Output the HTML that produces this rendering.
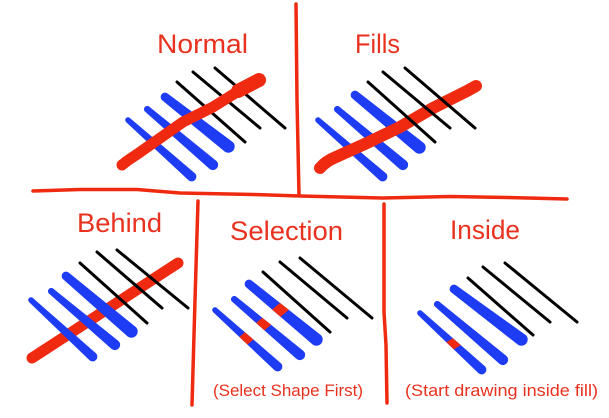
<!DOCTYPE html>
<html>
<head>
<meta charset="utf-8">
<style>
  html, body { margin:0; padding:0; background:#ffffff; }
  body { width:609px; height:418px; overflow:hidden; }
  svg { display:block; }
  .t { font-family:"Liberation Sans", sans-serif; fill:#e8321f; }
  .b { fill:#1d3cf4; stroke:#1d3cf4; stroke-width:0.6; stroke-linejoin:round; }
  .w { fill:#ffffff; stroke:#ffffff; stroke-width:0.6; }
</style>
</head>
<body>
<svg width="609" height="418" viewBox="0 0 609 418" xmlns="http://www.w3.org/2000/svg">
  <defs>
    <mask id="mSel" maskUnits="userSpaceOnUse" x="0" y="0" width="609" height="418">
      <rect x="0" y="0" width="609" height="418" fill="black"/>
      <path class="w" d="M213.3,311.9 L275,370.3 A4.5 4.5 0 0 0 281,363.7 L216.7,308.2 A2.5 2.5 0 0 0 213.3,311.9 Z"/>
      <path class="w" d="M232,301.2 L296.7,358.7 A5 5 0 0 0 303.4,351.3 L236,296.8 A3 3 0 0 0 232,301.2 Z"/>
      <path class="w" d="M246.3,287 L313,344.4 A6 6 0 0 0 321,335.6 L251.7,281 A4 4 0 0 0 246.3,287 Z"/>
    </mask>
    <mask id="mIn" maskUnits="userSpaceOnUse" x="0" y="0" width="609" height="418">
      <rect x="0" y="0" width="609" height="418" fill="black"/>
      <path class="w" d="M418.3,314.9 L479,373.3 A4.5 4.5 0 0 0 485,366.7 L421.7,311.2 A2.5 2.5 0 0 0 418.3,314.9 Z"/>
    </mask>
  </defs>

  <!-- Dividers -->
  <g stroke="#f02a10" stroke-width="3.5" fill="none" stroke-linecap="round" stroke-linejoin="round">
    <path d="M296,4 L297,100 L299,195"/>
    <path d="M33,191 L80,189.5 L137,189.5 L180,193 L253,194.5 L300,196 L383,198 L450,196.5 L507,197.5 L567,199"/>
    <path d="M198,201 L195,300 L192,405"/>
    <path d="M384,204 L384,312 L386,345 L387,403"/>
  </g>

  <!-- Titles -->
  <text class="t" x="157" y="53" font-size="27" textLength="91" lengthAdjust="spacingAndGlyphs">Normal</text>
  <text class="t" x="355" y="53" font-size="27" textLength="45" lengthAdjust="spacingAndGlyphs">Fills</text>
  <text class="t" x="77" y="232" font-size="27" textLength="85" lengthAdjust="spacingAndGlyphs">Behind</text>
  <text class="t" x="230" y="240" font-size="27" textLength="113" lengthAdjust="spacingAndGlyphs">Selection</text>
  <text class="t" x="450" y="239" font-size="27" textLength="70" lengthAdjust="spacingAndGlyphs">Inside</text>
  <text class="t" x="213" y="396" font-size="17" textLength="150" lengthAdjust="spacingAndGlyphs">(Select Shape First)</text>
  <text class="t" x="405" y="396" font-size="17" textLength="193" lengthAdjust="spacingAndGlyphs">(Start drawing inside fill)</text>

  <!-- ===== NORMAL ===== -->
  <path class="b" d="M126.3,121.9 L189,180.3 A4.5 4.5 0 0 0 195,173.7 L129.7,118.2 A2.5 2.5 0 0 0 126.3,121.9 Z"/>
  <path class="b" d="M145,111.2 L209.7,168.7 A5 5 0 0 0 216.4,161.3 L149,106.8 A3 3 0 0 0 145,111.2 Z"/>
  <path class="b" d="M162.3,100 L225,151.4 A6 6 0 0 0 233,142.6 L167.7,94 A4 4 0 0 0 162.3,100 Z"/>
  <g stroke="#000" stroke-width="3" stroke-linecap="round" fill="none">
    <line x1="177" y1="82" x2="245" y2="142"/>
    <line x1="193" y1="72" x2="260" y2="128"/>
    <line x1="215" y1="68" x2="285" y2="128"/>
  </g>
  <g stroke="#f02a10" stroke-linecap="round" stroke-linejoin="round" fill="none">
    <path d="M122,165 Q128,160 136,155 L183,122 L213,107 L237,92 L259,81" stroke-width="11"/>
    <line x1="238" y1="91" x2="259" y2="80" stroke-width="14"/>
  </g>

  <!-- ===== FILLS ===== -->
  <path class="b" d="M316.3,121.9 L380,180.3 A4.5 4.5 0 0 0 386,173.7 L319.7,118.2 A2.5 2.5 0 0 0 316.3,121.9 Z"/>
  <path class="b" d="M335,111.2 L399.7,168.7 A5 5 0 0 0 406.4,161.3 L339,106.8 A3 3 0 0 0 335,111.2 Z"/>
  <path class="b" d="M352.3,98 L416,152.4 A6 6 0 0 0 424,143.6 L357.7,92 A4 4 0 0 0 352.3,98 Z"/>
  <path d="M320,168 Q326,161 336,157 L367,143 L400,127 L433,108 L467,91 L476,86" stroke="#f02a10" stroke-width="12" stroke-linecap="round" stroke-linejoin="round" fill="none"/>
  <g stroke="#000" stroke-width="3" stroke-linecap="round" fill="none">
    <line x1="368" y1="82" x2="435" y2="142"/>
    <line x1="383" y1="72" x2="450" y2="128"/>
    <line x1="405" y1="68" x2="475" y2="128"/>
  </g>

  <!-- ===== BEHIND ===== -->
  <line x1="32" y1="358" x2="178" y2="263" stroke="#f02a10" stroke-width="11" stroke-linecap="round"/>
  <path class="b" d="M29.3,301.9 L90,360.3 A4.5 4.5 0 0 0 96,353.7 L32.7,298.2 A2.5 2.5 0 0 0 29.3,301.9 Z"/>
  <path class="b" d="M49,293.2 L111.7,348.7 A5 5 0 0 0 118.4,341.3 L53,288.8 A3 3 0 0 0 49,293.2 Z"/>
  <path class="b" d="M63.3,279 L128,336.4 A6 6 0 0 0 136,327.6 L68.7,273 A4 4 0 0 0 63.3,279 Z"/>
  <g stroke="#000" stroke-width="3" stroke-linecap="round" fill="none">
    <line x1="80" y1="263" x2="147" y2="323"/>
    <line x1="97" y1="252" x2="162" y2="308"/>
    <line x1="117" y1="250" x2="188" y2="308"/>
  </g>

  <!-- ===== SELECTION ===== -->
  <path class="b" d="M213.3,311.9 L275,370.3 A4.5 4.5 0 0 0 281,363.7 L216.7,308.2 A2.5 2.5 0 0 0 213.3,311.9 Z"/>
  <path class="b" d="M232,301.2 L296.7,358.7 A5 5 0 0 0 303.4,351.3 L236,296.8 A3 3 0 0 0 232,301.2 Z"/>
  <path class="b" d="M246.3,287 L313,344.4 A6 6 0 0 0 321,335.6 L251.7,281 A4 4 0 0 0 246.3,287 Z"/>
  <line x1="218" y1="362" x2="310" y2="285" stroke="#f02a10" stroke-width="11" mask="url(#mSel)"/>
  <g stroke="#000" stroke-width="3" stroke-linecap="round" fill="none">
    <line x1="263" y1="272" x2="330" y2="332"/>
    <line x1="280" y1="262" x2="347" y2="318"/>
    <line x1="300" y1="258" x2="372" y2="318"/>
  </g>

  <!-- ===== INSIDE ===== -->
  <path class="b" d="M418.3,314.9 L479,373.3 A4.5 4.5 0 0 0 485,366.7 L421.7,311.2 A2.5 2.5 0 0 0 418.3,314.9 Z"/>
  <path class="b" d="M435,306.2 L499.7,363.7 A5 5 0 0 0 506.4,356.3 L439,301.8 A3 3 0 0 0 435,306.2 Z"/>
  <path class="b" d="M451.3,292 L518,344.4 A6 6 0 0 0 526,335.6 L456.7,286 A4 4 0 0 0 451.3,292 Z"/>
  <line x1="430" y1="358" x2="476" y2="330" stroke="#f02a10" stroke-width="10" mask="url(#mIn)"/>
  <g stroke="#000" stroke-width="3" stroke-linecap="round" fill="none">
    <line x1="468" y1="278" x2="533" y2="335"/>
    <line x1="483" y1="267" x2="550" y2="322"/>
    <line x1="505" y1="263" x2="577" y2="322"/>
  </g>
</svg>
</body>
</html>
